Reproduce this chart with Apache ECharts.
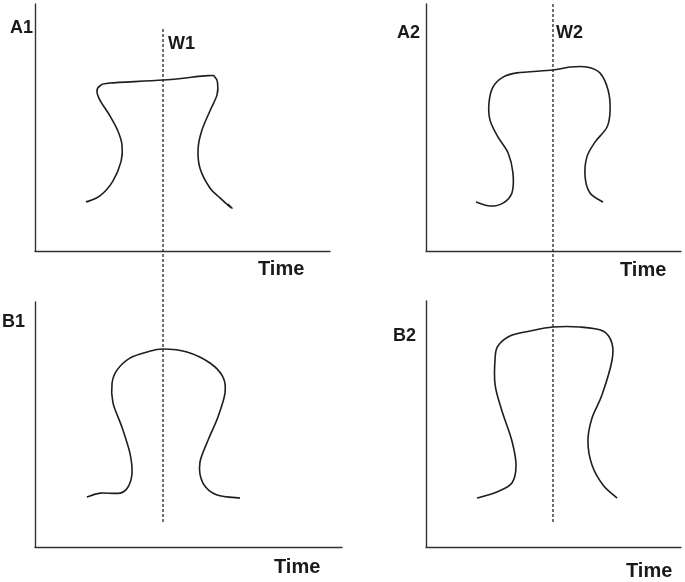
<!DOCTYPE html>
<html>
<head>
<meta charset="utf-8">
<script src="https://cdn.jsdelivr.net/npm/echarts@6/dist/echarts.min.js"></script>
<style>
  html, body { margin: 0; padding: 0; background: #fff; }
  #main { width: 685px; height: 582px; }
</style>
</head>
<body>
<div id="main"></div>
<script>
// curve points [time, value] per panel, axis units 0-100
var curveA1 = [[17.3,19.8],[22.0,22.3],[26.4,28.3],[29.2,36.4],[29.5,42.9],[28.1,48.6],[25.4,54.7],[22.0,61.1],[21.0,64.8],[22.0,66.8],[25.4,68.0],[43.4,69.2],[58.6,71.0],[61.0,70.4],[61.9,68.0],[61.7,63.2],[59.3,56.7],[56.6,49.0],[55.3,41.7],[55.9,33.6],[59.3,25.5],[62.7,21.5],[65.4,18.6],[66.8,17.4],[65.4,19.0]];
var curveA2 = [[19.6,19.8],[25.1,18.2],[30.2,19.4],[33.7,23.5],[34.1,31.6],[32.2,39.7],[28.2,46.2],[25.1,53.0],[24.7,59.9],[26.3,66.4],[30.2,70.4],[35.7,72.1],[49.8,73.3],[56.5,74.5],[63.1,74.5],[68.2,72.1],[71.4,65.2],[72.2,57.1],[71.0,50.2],[66.3,44.1],[63.1,38.1],[62.4,30.0],[64.3,23.5],[69.4,19.8]];
var curveB1 = [[16.9,20.4],[21.2,22.0],[27.7,22.0],[30.3,24.5],[31.6,30.2],[30.9,38.4],[28.3,49.0],[25.4,58.8],[25.1,66.9],[26.7,72.2],[30.9,77.1],[36.5,79.6],[41.7,80.8],[49.5,79.6],[57.0,75.1],[61.2,69.4],[61.9,62.9],[59.6,53.1],[56.4,43.7],[53.7,34.3],[54.7,26.1],[59.3,21.2],[66.8,20.0]];
var curveB2 = [[20.0,19.9],[27.8,22.4],[33.7,26.0],[35.3,33.3],[33.7,43.1],[29.8,55.3],[27.1,65.9],[27.1,76.8],[28.2,81.7],[32.9,85.8],[40.8,87.8],[49.8,89.4],[60.4,89.4],[69.4,87.8],[72.9,82.9],[72.9,75.6],[69.0,61.8],[65.1,52.4],[63.5,43.1],[65.1,33.3],[69.4,25.2],[74.9,19.9]];
// dashed window lines (column overlay units)
var lineW1 = [[43.4,95.4],[43.4,4.4]];
var lineW2 = [[49.8,100],[49.8,4.4]];
var panelLabels = ['A1', 'A2', 'B1', 'B2'];
var windowLabels = ['W1', 'W2'];
var xName = 'Time';

var myChart = echarts.init(document.getElementById('main'));

var grids = [
  { left: 35, top: 4, width: 295, height: 247 },
  { left: 426, top: 4, width: 255, height: 247 },
  { left: 35, top: 302, width: 307, height: 245 },
  { left: 426, top: 301, width: 255, height: 246 },
  // overlays for dashed lines
  { left: 35, top: 4, width: 295, height: 543 },
  { left: 426, top: 4, width: 255, height: 543 }
];

var xAxes = [], yAxes = [];
grids.forEach(function (g, i) {
  var show = i < 4;
  var axisLine = { show: show, lineStyle: { color: '#333', width: 1.4 } };
  xAxes.push({ gridIndex: i, type: 'value', min: 0, max: 100, axisLine: axisLine,
    axisTick: { show: false }, axisLabel: { show: false }, splitLine: { show: false } });
  yAxes.push({ gridIndex: i, type: 'value', min: 0, max: 100, axisLine: axisLine,
    axisTick: { show: false }, axisLabel: { show: false }, splitLine: { show: false } });
});

// 闭合曲线会回折，内置 smooth 会夹住控制点，这里用 Catmull-Rom 自己画
function curveRender(curve) {
  return function (params, api) {
    if (params.dataIndex !== 0) return null;
    var pts = curve.map(function (p) { return api.coord(p); });
    var d = 'M' + pts[0][0] + ' ' + pts[0][1];
    for (var i = 0; i < pts.length - 1; i++) {
      var p0 = pts[i - 1] || pts[i];
      var p1 = pts[i];
      var p2 = pts[i + 1];
      var p3 = pts[i + 2] || p2;
      var c1x = p1[0] + (p2[0] - p0[0]) / 6, c1y = p1[1] + (p2[1] - p0[1]) / 6;
      var c2x = p2[0] - (p3[0] - p1[0]) / 6, c2y = p2[1] - (p3[1] - p1[1]) / 6;
      d += ' C' + c1x + ' ' + c1y + ' ' + c2x + ' ' + c2y + ' ' + p2[0] + ' ' + p2[1];
    }
    return {
      type: 'path',
      shape: { pathData: d },
      style: { fill: null, stroke: '#1e1e1e', lineWidth: 1.6 }
    };
  };
}

var curves = [curveA1, curveA2, curveB1, curveB2];
var series = curves.map(function (c, i) {
  return {
    type: 'custom', xAxisIndex: i, yAxisIndex: i, data: c,
    encode: { x: 0, y: 1 }, silent: true,
    renderItem: curveRender(c)
  };
});
[lineW1, lineW2].forEach(function (l, i) {
  series.push({
    type: 'line', xAxisIndex: 4 + i, yAxisIndex: 4 + i, data: l,
    showSymbol: false, silent: true,
    lineStyle: { color: '#222', width: 1.3, type: [3, 2] }
  });
});

var font = 'bold 18px "Liberation Sans", Arial, sans-serif';
var fontTime = 'bold 20px "Liberation Sans", Arial, sans-serif';
function txt(t, x, y, f) {
  return { type: 'text', left: x, top: y, style: { text: t, font: f || font, fill: '#1a1a1a' } };
}

var option = {
  animation: false,
  backgroundColor: '#fff',
  grid: grids,
  xAxis: xAxes,
  yAxis: yAxes,
  series: series,
  graphic: [
    txt(panelLabels[0], 10, 19),
    txt(panelLabels[1], 397, 24),
    txt(panelLabels[2], 2, 313),
    txt(panelLabels[3], 393, 327),
    txt(windowLabels[0], 168, 35),
    txt(windowLabels[1], 556, 24),
    txt(xName, 258, 259, fontTime),
    txt(xName, 620, 260, fontTime),
    txt(xName, 274, 557, fontTime),
    txt(xName, 626, 561, fontTime)
  ]
};
myChart.setOption(option);
</script>
</body>
</html>
